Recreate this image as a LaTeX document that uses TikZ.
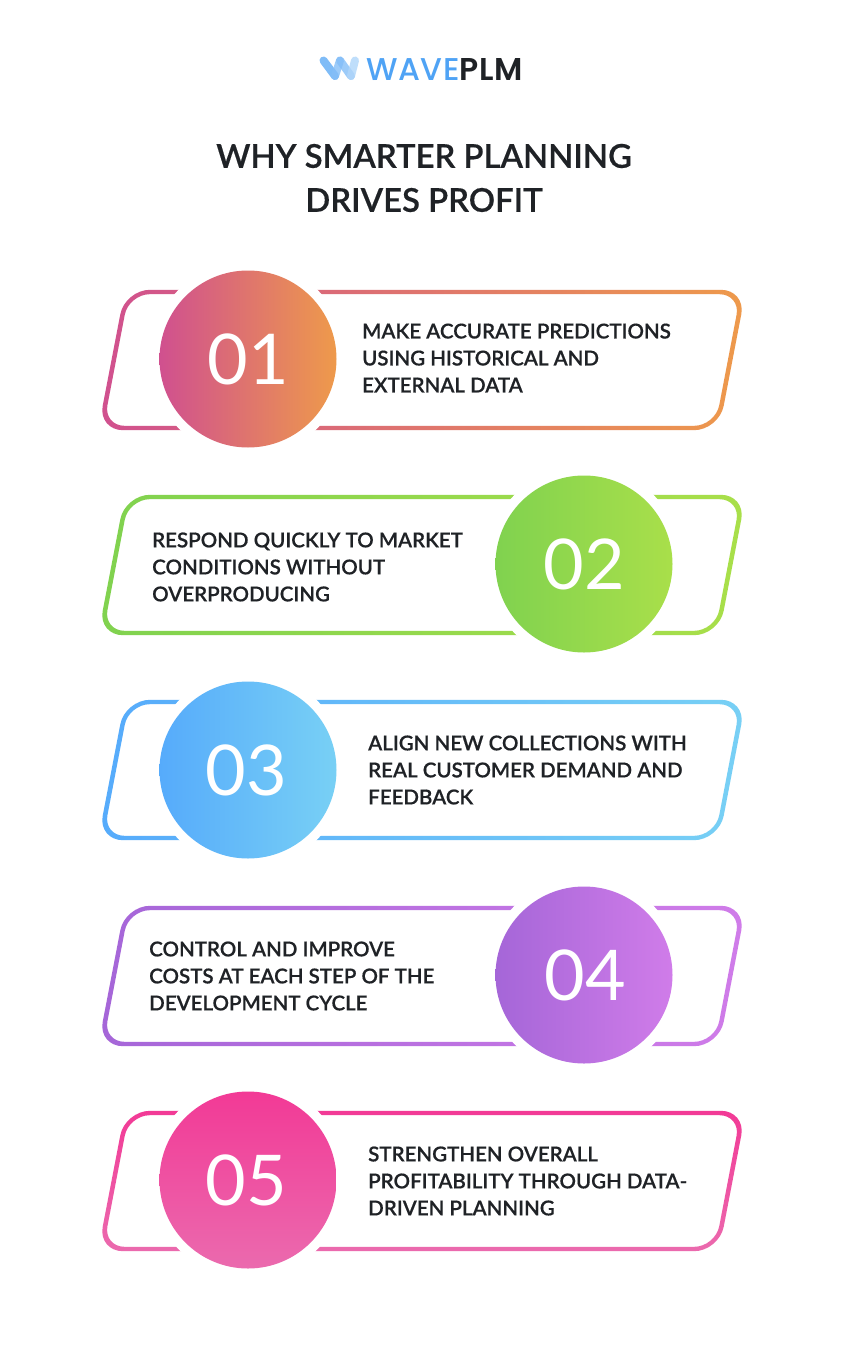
\documentclass[tikz,border=0pt]{standalone}
\usepackage{fontspec}
\setmainfont{Lato}[BoldFont={Lato Semibold},BoldFeatures={FakeBold=0.45}]
\newfontfamily\numfont{Lato}
\newfontfamily\logofont{Poppins Medium}[BoldFont={Poppins SemiBold},LetterSpace=2]
\definecolor{inktext}{HTML}{1F2226}
\definecolor{logoblue}{HTML}{4FA3F5}
\tikzset{
  x=1pt,y=-1pt,
  numdisc/.style={circle,minimum size=177pt,inner sep=0pt,text=white,font=\numfont\fontsize{70}{70}\selectfont},
  halo/.style={circle,fill=white,minimum size=196pt,inner sep=0pt},
  bodytext/.style={anchor=west,align=left,inner sep=0pt,text=inktext,font=\bfseries\fontsize{20.5}{27}\selectfont},
}
\definecolor{a1}{HTML}{D0508F}\definecolor{b1}{HTML}{EE9A4B}
\definecolor{a2}{HTML}{80D24F}\definecolor{b2}{HTML}{A9DF4A}
\definecolor{a3}{HTML}{56ABFB}\definecolor{b3}{HTML}{78D0F5}
\definecolor{a4}{HTML}{A566D8}\definecolor{b4}{HTML}{D07CE9}
\definecolor{a5}{HTML}{F23A96}\definecolor{b5}{HTML}{EB6AAE}
% #1 top y, #2 shading options
\newcommand{\ringbox}[2]{%
  \shade[even odd rule,#2]
    [rounded corners=25pt] (125,#1-2.2) -- (746,#1-2.2) -- (719,#1+138.2) -- (98,#1+138.2) -- cycle
    [rounded corners=21pt] (128.7,#1+2.2) -- (740.5,#1+2.2) -- (715.3,#1+133.8) -- (103.5,#1+133.8) -- cycle;
}
\begin{document}
\begin{tikzpicture}
\useasboundingbox[fill=white] (0,0) rectangle (846,1362);
% logo
\begin{scope}[line width=8pt,line cap=round]
  \coordinate (w1) at (323.5,60.5); \coordinate (w2) at (335,76);
  \coordinate (w3) at (340,60.5); \coordinate (w4) at (351,76); \coordinate (w5) at (355,60.5);
  \draw[logoblue!80,opacity=.9] (w1) -- (w2);
  \draw[logoblue!70,opacity=.8] (w2) -- (w3);
  \draw[logoblue!70,opacity=.8] (w3) -- (w4);
  \draw[logoblue!45,opacity=.8] (w4) -- (w5);
\end{scope}
\node[anchor=base west,inner sep=0pt,font=\logofont\fontsize{31.5}{32}\selectfont] (brand) at (366,80.5) {\textcolor{logoblue}{WAVE}\textcolor{inktext}{\bfseries PLM}};
% title
\node[inner sep=0pt,text=inktext,font=\bfseries\fontsize{32.8}{44}\selectfont,align=center] (title) at (424,178) {WHY SMARTER PLANNING\\DRIVES PROFIT};
% card 1
\ringbox{292}{left color=a1,right color=b1}
\node[halo] (h1) at (248,359) {};
\node[numdisc,left color=a1,right color=b1] (n1) at (248,359) {01};
\node[bodytext] (t1) at (362,358) {MAKE ACCURATE PREDICTIONS\\USING HISTORICAL AND\\EXTERNAL DATA};
% card 2
\ringbox{497}{left color=a2,right color=b2}
\node[halo] (h2) at (584,564) {};
\node[numdisc,left color=a2,right color=b2] (n2) at (584,564) {02};
\node[bodytext] (t2) at (152,567) {RESPOND QUICKLY TO MARKET\\CONDITIONS WITHOUT\\OVERPRODUCING};
% card 3
\ringbox{702}{left color=a3,right color=b3}
\node[halo] (h3) at (248,770) {};
\node[numdisc,left color=a3,right color=b3] (n3) at (248,770) {\kern-3pt 03};
\node[bodytext] (t3) at (368,770) {ALIGN NEW COLLECTIONS WITH\\REAL CUSTOMER DEMAND AND\\FEEDBACK};
% card 4
\ringbox{908}{left color=a4,right color=b4}
\node[halo] (h4) at (584,975) {};
\node[numdisc,left color=a4,right color=b4] (n4) at (584,975) {\kern3pt 04};
\node[bodytext] (t4) at (149,976) {CONTROL AND IMPROVE\\COSTS AT EACH STEP OF THE\\DEVELOPMENT CYCLE};
% card 5
\ringbox{1113}{top color=a5,bottom color=b5}
\node[halo] (h5) at (248,1180) {};
\node[numdisc,top color=a5,bottom color=b5] (n5) at (248,1180) {\kern-3pt 05};
\node[bodytext] (t5) at (368,1181) {STRENGTHEN OVERALL\\PROFITABILITY THROUGH DATA-\\DRIVEN PLANNING};
\end{tikzpicture}
\end{document}
